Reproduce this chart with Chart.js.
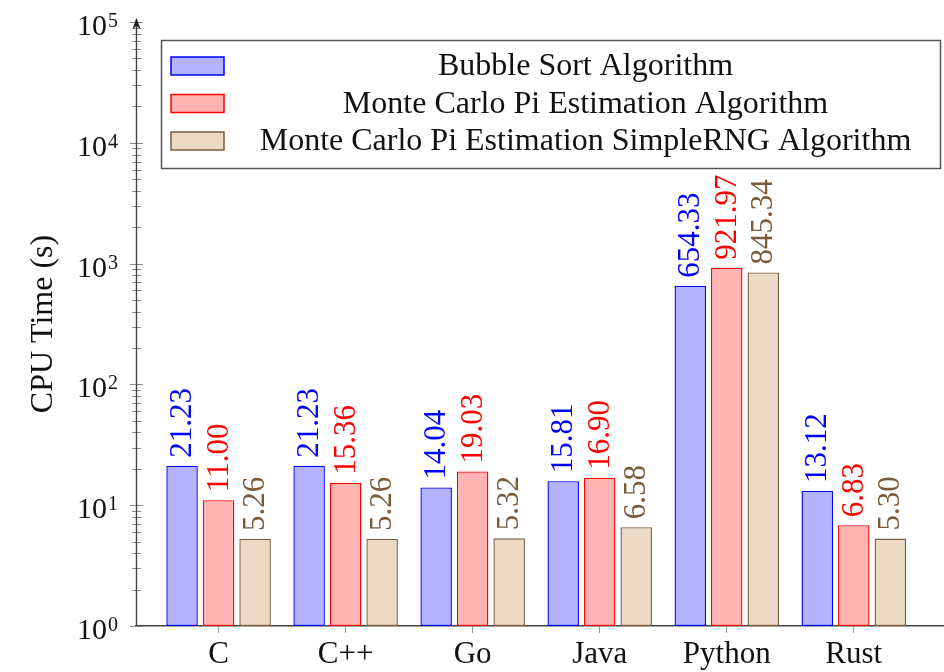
<!DOCTYPE html>
<html>
<head>
<meta charset="utf-8">
<script src="https://cdn.jsdelivr.net/npm/chart.js@4.4.0/dist/chart.umd.min.js"></script>
<style>
  body { margin: 0; background: #fff; }
  #wrap { width: 944px; height: 672px; }
</style>
</head>
<body>
<div id="wrap"><canvas id="chart"></canvas></div>
<script>
// data
const languages = ["C", "C++", "Go", "Java", "Python", "Rust"];
const bubbleSort = [21.23, 21.23, 14.04, 15.81, 654.33, 13.12];
const monteCarlo = [11.00, 15.36, 19.03, 16.90, 921.97, 6.83];
const monteCarloSimple = [5.26, 5.26, 5.32, 6.58, 845.34, 5.30];
const seriesNames = [
    "Bubble Sort Algorithm",
    "Monte Carlo Pi Estimation Algorithm",
    "Monte Carlo Pi Estimation SimpleRNG Algorithm"
];
const yPowers = [0, 1, 2, 3, 4, 5];

const serif = "'Liberation Serif', 'Times New Roman', serif";

// kleuren zoals pgfplots: blue!30, red!30, brown!30
const fills = ["#b3b3ff", "#ffb3b3", "#ebd9c6"];
const borders = ["#0000ff", "#ff0000", "#7d5c3c"];
const textColours = ["#0000ff", "#ff0000", "#7a5a3a"];

function toPoints(values) {
    return values.map((v, i) => ({ x: i, y: v }));
}

// y-as met pijl, streepjes en 10^n labels
const yAxisPlugin = {
    id: "yAxisPlugin",
    afterDraw(chart) {
        const ctx = chart.ctx;
        const y = chart.scales.y;
        const area = chart.chartArea;
        const x0 = area.left;
        ctx.save();
        // minor ticks
        ctx.strokeStyle = "#8a8a8a";
        ctx.lineWidth = 1;
        for (let d = 0; d < 5; d++) {
            for (let m = 2; m < 10; m++) {
                const py = Math.round(y.getPixelForValue(m * Math.pow(10, d))) + 0.5;
                ctx.beginPath();
                ctx.moveTo(x0 - 4, py);
                ctx.lineTo(x0 + 5, py);
                ctx.stroke();
            }
        }
        // major ticks + labels
        yPowers.forEach(p => {
            const py = Math.round(y.getPixelForValue(Math.pow(10, p))) + 0.5;
            ctx.strokeStyle = "#8a8a8a";
            ctx.beginPath();
            ctx.moveTo(x0 - 6, py);
            ctx.lineTo(x0 + 7, py);
            ctx.stroke();
            ctx.fillStyle = "#111";
            ctx.textBaseline = "alphabetic";
            ctx.font = "20px " + serif;
            ctx.textAlign = "right";
            const expW = ctx.measureText(String(p)).width;
            ctx.fillText(String(p), 118, py + 4);
            ctx.font = "30px " + serif;
            ctx.fillText("10", 118 - expW - 1, py + 12);
        });
        // as-lijn met pijl
        ctx.strokeStyle = "#444";
        ctx.lineWidth = 1.4;
        ctx.beginPath();
        ctx.moveTo(x0 + 0.5, area.bottom);
        ctx.lineTo(x0 + 0.5, area.top - 3);
        ctx.stroke();
        ctx.fillStyle = "#222";
        ctx.beginPath();
        ctx.moveTo(x0 + 0.5, area.top - 4);
        ctx.lineTo(x0 - 3.5, area.top + 7);
        ctx.lineTo(x0 + 0.5, area.top + 4);
        ctx.lineTo(x0 + 4.5, area.top + 7);
        ctx.closePath();
        ctx.fill();
        ctx.restore();
    }
};

// gedraaide waardes boven de staven
const valueLabels = {
    id: "valueLabels",
    afterDatasetsDraw(chart) {
        const ctx = chart.ctx;
        ctx.save();
        ctx.font = "31px " + serif;
        ctx.textAlign = "left";
        ctx.textBaseline = "middle";
        chart.data.datasets.forEach((ds, di) => {
            const meta = chart.getDatasetMeta(di);
            ctx.fillStyle = textColours[di];
            meta.data.forEach((bar, i) => {
                ctx.save();
                ctx.translate(bar.x, bar.y - 8);
                ctx.rotate(-Math.PI / 2);
                ctx.fillText(ds.data[i].y.toFixed(2), 0, 1);
                ctx.restore();
            });
        });
        ctx.restore();
    }
};

// legenda in een kader, tekst gecentreerd
const boxLegend = {
    id: "boxLegend",
    afterDraw(chart) {
        const ctx = chart.ctx;
        const area = chart.chartArea;
        const left = area.left + 25;
        const top = area.top + 18;
        const right = area.right - 4;
        const rowH = 37.5;
        const bottom = top + 128;
        ctx.save();
        ctx.fillStyle = "#fff";
        ctx.fillRect(left, top, right - left, bottom - top);
        ctx.strokeStyle = "#555";
        ctx.lineWidth = 1.5;
        ctx.strokeRect(left + 0.5, top + 0.5, right - left, bottom - top);
        ctx.font = "32px " + serif;
        ctx.textAlign = "center";
        ctx.textBaseline = "middle";
        chart.data.datasets.forEach((ds, i) => {
            const cy = top + 26 + i * rowH;
            ctx.fillStyle = ds.backgroundColor;
            ctx.fillRect(left + 10, cy - 9, 53, 18);
            ctx.strokeStyle = ds.borderColor;
            ctx.lineWidth = 1.5;
            ctx.strokeRect(left + 10, cy - 9, 53, 18);
            ctx.fillStyle = "#111";
            ctx.fillText(ds.label, (left + 70 + right) / 2, cy + 1);
        });
        ctx.restore();
    }
};

function makeDataset(i, values) {
    return {
        label: seriesNames[i],
        data: toPoints(values),
        backgroundColor: fills[i],
        borderColor: borders[i],
        borderWidth: 1.4,
        borderSkipped: false
    };
}

new Chart(document.getElementById("chart"), {
    type: "bar",
    data: {
        datasets: [
            makeDataset(0, bubbleSort),
            makeDataset(1, monteCarlo),
            makeDataset(2, monteCarloSimple)
        ]
    },
    options: {
        responsive: true,
        maintainAspectRatio: false,
        animation: false,
        categoryPercentage: 0.862,
        barPercentage: 0.863,
        layout: { padding: { top: 22, right: 0, left: 0, bottom: 0 } },
        plugins: {
            legend: { display: false },
            tooltip: { enabled: false }
        },
        scales: {
            x: {
                type: "linear",
                min: -0.65,
                max: 5.71,
                offset: false,
                afterBuildTicks: scale => {
                    scale.ticks = languages.map((l, i) => ({ value: i }));
                },
                afterFit: scale => { scale.height = 46; },
                ticks: {
                    callback: v => languages[v],
                    autoSkip: false,
                    maxRotation: 0,
                    padding: 3,
                    color: "#111",
                    font: { family: serif, size: 31 }
                },
                grid: {
                    offset: false,
                    drawOnChartArea: false,
                    drawTicks: true,
                    tickLength: 7,
                    color: "#999"
                },
                border: { display: true, color: "#444", width: 1.4 }
            },
            y: {
                type: "logarithmic",
                min: 1,
                max: 100000,
                afterFit: scale => { scale.width = 136; },
                ticks: { display: false },
                grid: { display: false },
                border: { display: false },
                title: {
                    display: true,
                    text: "CPU Time (s)",
                    color: "#111",
                    font: { family: serif, size: 32 },
                    padding: { top: 24, bottom: 0 }
                }
            }
        }
    },
    plugins: [yAxisPlugin, valueLabels, boxLegend]
});
</script>
</body>
</html>
